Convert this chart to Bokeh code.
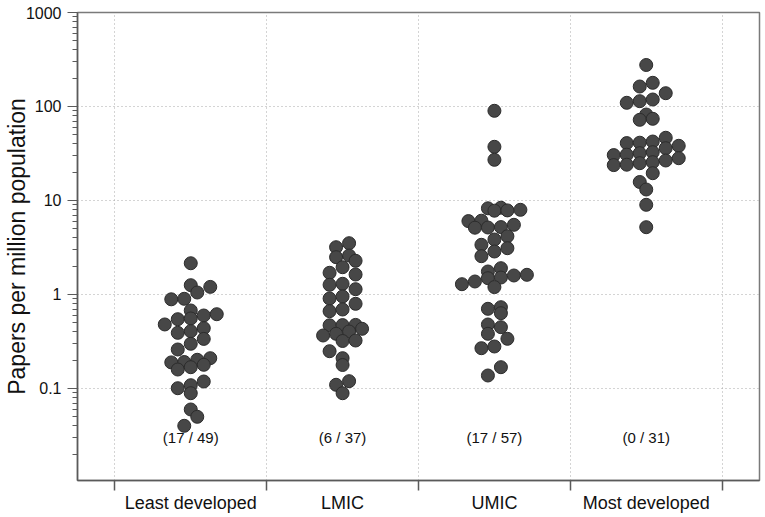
import numpy as np
from bokeh.plotting import figure
from bokeh.models import Range1d, FixedTicker, CustomJSTickFormatter, ColumnDataSource
from bokeh.embed import file_html
from bokeh.resources import INLINE
from bokeh.core.properties import value

# ---------------- data ----------------
categories = ["Least developed", "LMIC", "UMIC", "Most developed"]
zero_counts = [17, 6, 17, 0]
totals = [49, 37, 57, 31]

least_developed = [2.15, 1.256, 0.889, 0.900, 1.050, 1.205, 0.676, 0.480, 0.546, 0.556,
                   0.598, 0.617, 0.391, 0.407, 0.438, 0.260, 0.299, 0.337, 0.1895, 0.1913,
                   0.2020, 0.2101, 0.1592, 0.1685, 0.1787, 0.1007, 0.1084, 0.1187, 0.0891,
                   0.0598, 0.0401, 0.0500]
lmic = [3.185, 3.513, 2.494, 2.599, 1.702, 1.951, 2.283, 1.268, 1.300, 1.632, 0.9067,
        0.9522, 1.139, 0.6644, 0.6925, 0.7962, 0.4702, 0.4725, 0.4748, 0.3663, 0.3818,
        0.4041, 0.4316, 0.2493, 0.3201, 0.3240, 0.2101, 0.1778, 0.1095, 0.1196, 0.0891]
umic = [90.0, 37.26, 27.10, 8.260, 8.382, 6.037, 6.096, 7.789, 7.846, 7.961, 5.135,
        5.161, 5.212, 5.514, 3.379, 3.847, 4.171, 2.556, 2.867, 3.109, 1.757, 1.905,
        1.287, 1.375, 1.491, 1.516, 1.593, 1.620, 1.199, 0.7045, 0.7326, 0.4796, 0.6326,
        0.3818, 0.4489, 0.2684, 0.2798, 0.3379, 0.1375, 0.1685]
most_developed = [276.4, 163.2, 178.7, 109.5, 113.9, 118.7, 138.5, 82.2, 72.2, 74.0,
                  40.8, 41.2, 42.4, 46.5, 30.41, 30.71, 31.86, 32.65, 36.01, 38.19,
                  23.80, 24.03, 24.94, 25.56, 26.64, 28.18, 15.73, 19.52, 13.09, 9.00, 5.20]

y_major = [0.1, 1, 10, 100, 1000]
x_bounds = [0.5, 1.5, 2.5, 3.5, 4.5]

groups = [least_developed, lmic, umic, most_developed]
count_labels = [f"({z} / {t})" for z, t in zip(zero_counts, totals)]

# ---------------- beeswarm layout (centre method) ----------------
BIN_DECADES = 13 / 94.0   # one dot diameter, in decades
BIN_ANCHOR = 8 / 94.0     # log10 position of one bin edge
STEP = 0.0428             # half a dot diameter, in category units


def swarm_x(center, vals):
    logs = np.log10(np.asarray(vals, dtype=float))
    bins = np.floor((logs - BIN_ANCHOR) / BIN_DECADES).astype(int)
    xs = np.zeros(len(logs))
    for b in np.unique(bins):
        idx = np.where(bins == b)[0]
        idx = idx[np.argsort(logs[idx], kind="stable")]
        n = len(idx)
        offs = np.arange(n) * 2 - (n - 1)
        xs[idx] = center + offs * STEP
    return xs


xs, ys = [], []
for i, g in enumerate(groups):
    xs.extend(swarm_x(i + 1, g))
    ys.extend(g)
src = ColumnDataSource(dict(x=xs, y=ys))

# ---------------- figure ----------------
FONT = "Liberation Sans"
p = figure(frame_width=682, frame_height=468,
           x_range=Range1d(0.254, 4.746), y_range=Range1d(0.0105, 1000),
           y_axis_type="log", output_backend="svg", toolbar_location=None,
           min_border_left=40, min_border_right=3, min_border_top=12, min_border_bottom=10)
p.background_fill_color = "white"
p.border_fill_color = "white"
p.outline_line_color = "#7a7a7a"
p.outline_line_width = 1.5

# grids
p.xgrid.ticker = FixedTicker(ticks=x_bounds)
p.ygrid.ticker = FixedTicker(ticks=y_major[:-1])
for g in (p.xgrid, p.ygrid):
    g.grid_line_color = "#a8a8a8"
    g.grid_line_dash = "1 3"
    g.grid_line_width = 1

# y axis
minor = [m * 10.0 ** e for e in range(-2, 3) for m in range(2, 10)]
ya = p.yaxis[0]
ya.ticker = FixedTicker(ticks=y_major, minor_ticks=minor)
ya.formatter = CustomJSTickFormatter(code="return tick.toString();")
ya.axis_line_color = "#5a5a5a"
ya.axis_line_width = 1.5
ya.major_tick_line_color = "#5a5a5a"
ya.minor_tick_line_color = "#5a5a5a"
ya.major_tick_out = 10
ya.major_tick_in = 0
ya.minor_tick_out = 5
ya.minor_tick_in = 0
ya.major_label_standoff = 6
ya.major_label_text_font = FONT
ya.major_label_text_font_size = "16px"
ya.major_label_text_color = "#111111"
ya.axis_label = "Papers per million population"
ya.axis_label_text_font = FONT
ya.axis_label_text_font_size = "23px"
ya.axis_label_text_font_style = "normal"
ya.axis_label_text_color = "#111111"
ya.axis_label_standoff = -7

# x axis
xa = p.xaxis[0]
xa.ticker = FixedTicker(ticks=[1, 2, 3, 4], minor_ticks=x_bounds)
xa.major_label_overrides = {i + 1: c for i, c in enumerate(categories)}
xa.axis_line_color = "#5a5a5a"
xa.axis_line_width = 1.5
xa.major_tick_out = 0
xa.major_tick_in = 0
xa.minor_tick_out = 10
xa.minor_tick_in = 0
xa.minor_tick_line_color = "#5a5a5a"
xa.minor_tick_line_width = 1.5
xa.major_label_standoff = 2
xa.major_label_text_font = FONT
xa.major_label_text_font_size = "18px"
xa.major_label_text_color = "#111111"

# points
p.scatter("x", "y", source=src, size=13, fill_color="#474747",
          line_color="#2c2c2c", line_width=1)

# counts
p.text(x=[1, 2, 3, 4], y=[0.03] * 4, text=count_labels, text_align="center",
       text_baseline="middle", text_font=value(FONT), text_font_size="15px",
       text_color="#111111")

open("out.html", "w").write(file_html(p, INLINE))
